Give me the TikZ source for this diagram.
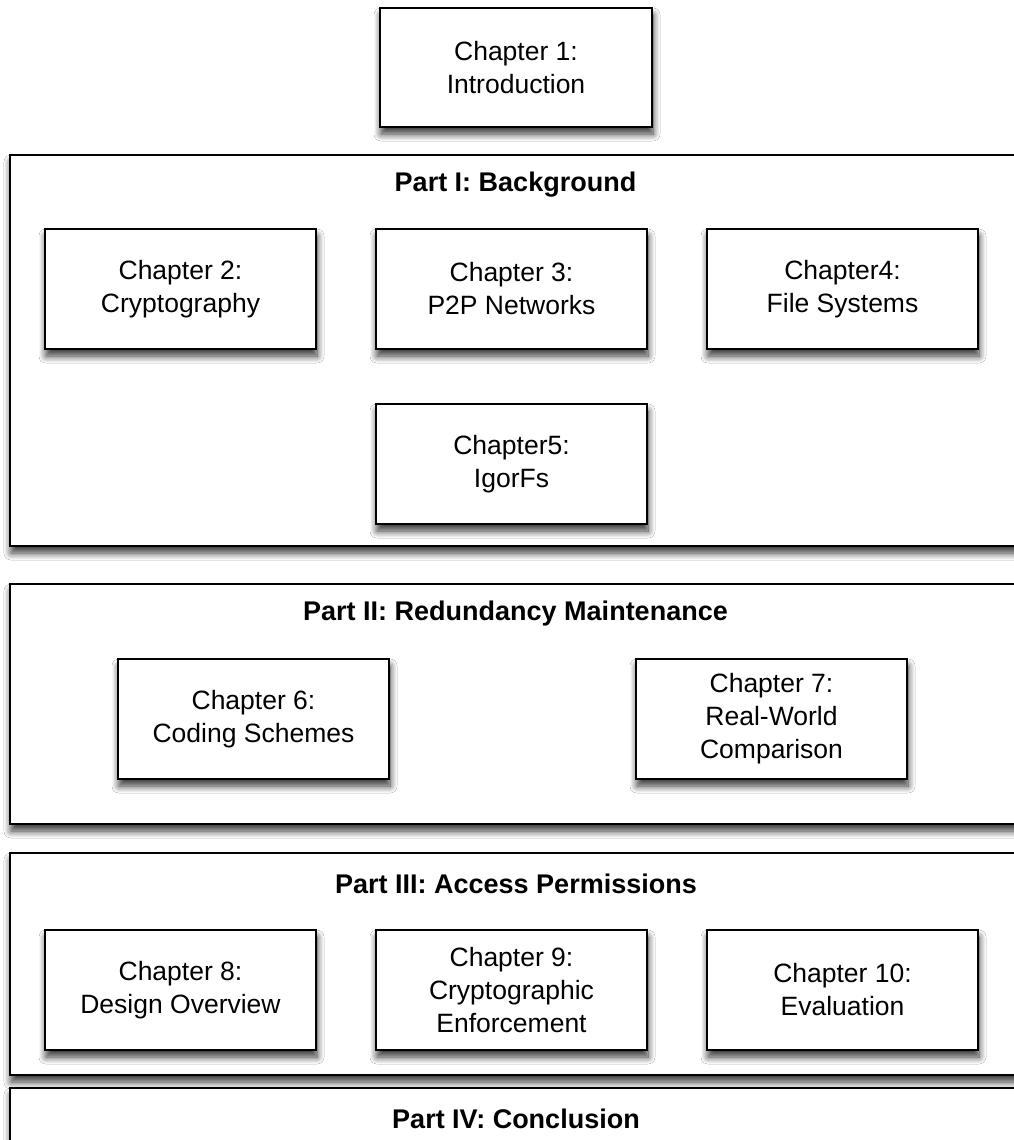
\documentclass[tikz,border=0pt]{standalone}
\usepackage{fontspec}
\setmainfont{Liberation Sans}
\usetikzlibrary{shadows.blur}
\tikzset{
  boxshadow/.style={blur shadow={shadow xshift=1pt, shadow yshift=-7pt, shadow blur radius=7pt, shadow blur steps=10, shadow opacity=80}},
  chap/.style={draw=black, line width=1.6pt, fill=white, boxshadow, align=center,
    minimum width=271pt, minimum height=120pt, inner sep=0pt,
    font=\fontsize{26.5pt}{33pt}\selectfont},
  part/.style={draw=black, line width=1.6pt, fill=white, boxshadow, inner sep=0pt},
  parttitle/.style={font=\fontsize{27pt}{33pt}\selectfont\bfseries, inner sep=0pt}
}
\begin{document}
\begin{tikzpicture}[x=1pt,y=-1pt]
\useasboundingbox (0,0) rectangle (1014,1140);
\clip (0,0) rectangle (1014,1140);
\fill[white] (0,0) rectangle (1014,1140);
% Chapter 1
\node[chap, minimum width=272pt, minimum height=119pt] (c1) at (516,67.5) {Chapter 1:\\Introduction};
% Part I
\node[part, minimum width=1030pt, minimum height=391pt] (p1) at (525,350.5) {};
\node[parttitle] (t1) at (515.5,185) {Part I: Background};
\node[chap] (c2) at (180.5,289) {Chapter 2:\\Cryptography};
\node[chap] (c3) at (511.5,289) {Chapter 3:\\P2P Networks};
\node[chap] (c4) at (842.5,289) {Chapter4:\\File Systems};
\node[chap] (c5) at (511.5,464) {Chapter5:\\IgorFs};
% Part II
\node[part, minimum width=1030pt, minimum height=240pt] (p2) at (525,704) {};
\node[parttitle] (t2) at (515.5,614) {Part II: Redundancy Maintenance};
\node[chap] (c6) at (253.5,719) {Chapter 6:\\Coding Schemes};
\node[chap] (c7) at (771.5,719) {Chapter 7:\\Real-World\\Comparison};
% Part III
\node[part, minimum width=1030pt, minimum height=222pt] (p3) at (525,964) {};
\node[parttitle] (t3) at (516,884) {Part III: Access Permissions};
\node[chap] (c8) at (180.5,990) {Chapter 8:\\Design Overview};
\node[chap] (c9) at (511.5,990) {Chapter 9:\\Cryptographic\\Enforcement};
\node[chap] (c10) at (842.5,990) {Chapter 10:\\Evaluation};
% Part IV
\node[part, minimum width=1030pt, minimum height=200pt] (p4) at (525,1188) {};
\node[parttitle] (t4) at (516,1119) {Part IV: Conclusion};
\end{tikzpicture}
\end{document}
